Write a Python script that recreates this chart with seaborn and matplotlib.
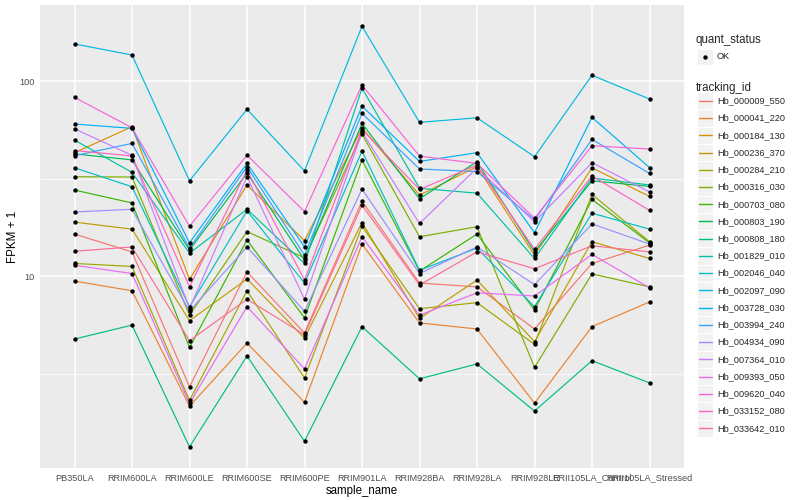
import numpy as np
import pandas as pd
import matplotlib
matplotlib.use("Agg")
import matplotlib.pyplot as plt
import seaborn as sns
from matplotlib.patches import Rectangle

# 샘플 (x축 순서)
samples = ["PB350LA", "RRIM600LA", "RRIM600LE", "RRIM600SE", "RRIM600PE",
           "RRIM901LA", "RRIM928BA", "RRIM928LA", "RRIM928LE",
           "RRII105LA_Control", "RRII105LA_Stressed"]

tracking_ids = ["Hb_000009_550", "Hb_000041_220", "Hb_000184_130", "Hb_000236_370",
                "Hb_000284_210", "Hb_000316_030", "Hb_000703_080", "Hb_000803_190",
                "Hb_000808_180", "Hb_001829_010", "Hb_002046_040", "Hb_002097_090",
                "Hb_003728_030", "Hb_003994_240", "Hb_004934_090", "Hb_007364_010",
                "Hb_009393_050", "Hb_009620_040", "Hb_033152_080", "Hb_033642_010"]

# FPKM + 1 값
hb_000009_550 = [16.4, 13.3, 2.7, 10.5, 5.1, 24.2, 9.2, 8.8, 5.35, 11.6, 14.4]
hb_000041_220 = [9.42, 8.4, 2.15, 4.53, 2.25, 14.6, 5.75, 5.35, 2.23, 5.5, 7.36]
hb_000184_130 = [42.9, 58.3, 9.6, 29.3, 15.2, 57.4, 26.0, 36.4, 12.8, 35.9, 25.6]
hb_000236_370 = [18.9, 17.4, 5.9, 9.65, 4.8, 18.8, 6.06, 9.54, 4.61, 15.0, 12.3]
hb_000284_210 = [11.6, 11.2, 2.3, 8.4, 3.0, 18.0, 6.8, 7.3, 4.46, 26.2, 15.0]
hb_000316_030 = [32.3, 32.2, 6.3, 16.9, 12.4, 53.5, 15.9, 17.9, 3.4, 10.25, 8.8]
hb_000703_080 = [27.6, 23.7, 4.3, 15.3, 6.1, 39.4, 10.6, 16.4, 6.7, 24.7, 14.8]
hb_000803_190 = [42.3, 39.4, 13.6, 33.7, 12.1, 60.6, 24.9, 38.6, 13.3, 30.8, 28.8]
hb_000808_180 = [4.75, 5.6, 1.33, 3.89, 1.42, 5.5, 2.97, 3.54, 2.03, 3.68, 2.83]
hb_001829_010 = [49.8, 34.0, 13.1, 22.0, 11.6, 92.0, 28.2, 26.6, 12.3, 31.8, 29.3]
hb_002046_040 = [35.9, 28.7, 6.96, 21.6, 9.2, 43.7, 10.7, 13.9, 6.96, 21.0, 17.4]
hb_002097_090 = [155, 136, 30.8, 71.6, 34.6, 191, 61.4, 64.8, 40.9, 107, 80.9]
hb_003728_030 = [60.2, 57.2, 14.8, 37.8, 14.1, 74.4, 38.7, 42.9, 16.7, 65.1, 36.0]
hb_003994_240 = [41.4, 47.9, 13.9, 36.3, 12.8, 68.3, 35.4, 34.3, 19.4, 50.2, 33.6]
hb_004934_090 = [21.3, 22.0, 6.6, 14.1, 6.6, 27.9, 10.3, 14.1, 9.04, 18.5, 14.6]
hb_007364_010 = [56.9, 41.6, 6.8, 32.3, 7.6, 54.9, 18.6, 35.8, 19.0, 38.1, 27.0]
hb_009393_050 = [11.35, 10.3, 2.22, 6.96, 3.34, 15.9, 6.3, 8.2, 7.9, 12.9, 8.7]
hb_009620_040 = [82.5, 57.6, 18.0, 41.7, 21.4, 95.4, 41.2, 37.8, 19.8, 46.6, 44.8]
hb_033152_080 = [44.0, 41.3, 8.8, 35.0, 9.54, 56.4, 27.8, 37.1, 13.7, 32.6, 21.7]
hb_033642_010 = [13.4, 14.1, 4.66, 7.6, 5.0, 23.1, 9.0, 13.3, 10.9, 14.3, 13.3]

series = [hb_000009_550, hb_000041_220, hb_000184_130, hb_000236_370, hb_000284_210,
          hb_000316_030, hb_000703_080, hb_000803_190, hb_000808_180, hb_001829_010,
          hb_002046_040, hb_002097_090, hb_003728_030, hb_003994_240, hb_004934_090,
          hb_007364_010, hb_009393_050, hb_009620_040, hb_033152_080, hb_033642_010]

# ggplot 기본 hue 팔레트 (20색)
palette = ["#F8766D", "#EA8331", "#D89000", "#C09B00", "#A3A500", "#7CAE00", "#39B600",
           "#00BB4E", "#00BF7D", "#00C1A3", "#00BFC4", "#00BAE0", "#00B0F6", "#35A2FF",
           "#9590FF", "#C77CFF", "#E76BF3", "#FA62DB", "#FF62BC", "#FF6C91"]

rows = []
for tid, vals in zip(tracking_ids, series):
    for i, v in enumerate(vals):
        rows.append({"tracking_id": tid, "sample_name": samples[i], "x": i, "fpkm": v})
df = pd.DataFrame(rows)

sns.set_theme(style="darkgrid", rc={"axes.facecolor": "#EBEBEB", "grid.color": "white"})
plt.rcParams["font.family"] = ["Liberation Sans", "DejaVu Sans"]

fig = plt.figure(figsize=(8, 5), dpi=100)
ax = fig.add_axes([40 / 800, 32 / 500, 644 / 800, 463 / 500])

sns.lineplot(data=df, x="x", y="fpkm", hue="tracking_id", hue_order=tracking_ids,
             palette=palette, linewidth=0.85, legend=False, ax=ax, sort=False)
sns.scatterplot(data=df, x="x", y="fpkm", color="black", s=10, linewidth=0, ax=ax,
                legend=False, zorder=5)

ax.set_yscale("log")
ax.set_ylim(1.036, 245.5)
ax.set_xlim(-0.6, 10.6)
ax.set_yticks([10, 100])
ax.set_yticklabels(["10", "100"])
ax.set_yticks([10 ** 0.5, 10 ** 1.5], minor=True)
ax.set_yticklabels([], minor=True)
ax.set_xticks(range(len(samples)))
ax.set_xticklabels(samples)

ax.grid(which="major", color="white", linewidth=1.1)
ax.grid(which="minor", axis="y", color="white", linewidth=0.55)
for s in ax.spines.values():
    s.set_visible(False)
ax.tick_params(which="major", length=2.5, width=0.8, color="#333333",
               labelcolor="#4D4D4D", labelsize=6.6, pad=1.5)
ax.tick_params(which="minor", length=0)

ax.set_xlabel("sample_name", fontsize=8.3, color="black", labelpad=2)
ax.set_ylabel("FPKM + 1", fontsize=8.3, color="black", labelpad=0)

# 범례 (ggplot 스타일)
lax = fig.add_axes([684 / 800, 0, 116 / 800, 1])
lax.set_xlim(684, 800)
lax.set_ylim(500, 0)
lax.axis("off")

lax.text(696, 40.5, "quant_status", fontsize=8.3, va="center", ha="left")
lax.add_patch(Rectangle((697, 48.5), 16, 16.5, facecolor="#F2F2F2", edgecolor="white", lw=0.5))
lax.scatter([705], [56.7], color="black", s=10, linewidth=0)
lax.text(717, 56.7, "OK", fontsize=6.6, va="center", ha="left")

lax.text(696, 87.5, "tracking_id", fontsize=8.3, va="center", ha="left")
step = (428.3 - 100.8) / (len(tracking_ids) - 1)
for i, (tid, col) in enumerate(zip(tracking_ids, palette)):
    yc = 100.8 + i * step
    lax.add_patch(Rectangle((697, yc - step / 2), 16, step, facecolor="#F2F2F2",
                            edgecolor="white", lw=0.8, zorder=1))
    lax.plot([698.5, 711.5], [yc, yc], color=col, lw=1.0, zorder=3)
    lax.text(717, yc, tid, fontsize=6.6, va="center", ha="left")

fig.savefig("out.png", dpi=100)
